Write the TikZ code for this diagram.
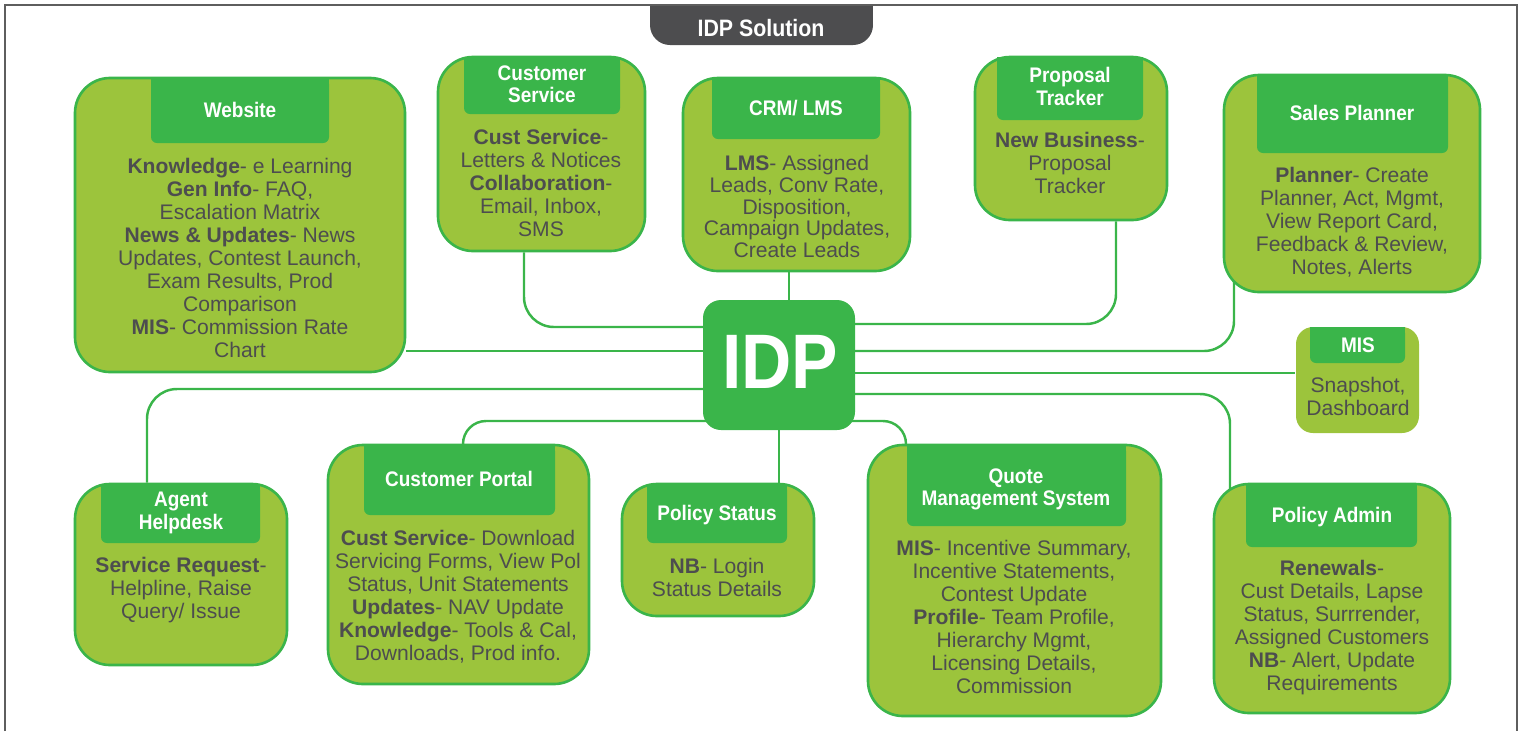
\documentclass[tikz,border=0pt]{standalone}
\usepackage{fontspec}
\setmainfont{Liberation Sans}
\newfontfamily\headfont[FakeStretch=0.9]{Liberation Sans}
\usetikzlibrary{fit,calc,backgrounds}
\definecolor{leaf}{HTML}{9CC43C}
\definecolor{tabgreen}{HTML}{3AB54A}
\definecolor{inkgray}{HTML}{4D4D4F}
\definecolor{framegray}{HTML}{5E5E5E}

\begin{document}
\begin{tikzpicture}[x=0.02cm,y=-0.02cm,
  panel/.style={draw=tabgreen,fill=leaf,line width=1.5pt,rounded corners=0.7cm,inner sep=0pt},
  tab/.style={fill=tabgreen,rounded corners=0.12cm,inner sep=0pt},
  title/.style={anchor=north,inner sep=0pt,text=white,align=center,
    font=\headfont\bfseries\fontsize{12}{13}\selectfont},
  body/.style={anchor=north,inner sep=0pt,align=center,text=inkgray,
    font=\fontsize{12}{13.1}\selectfont},
  link/.style={draw=tabgreen,line width=1.4pt,rounded corners=0.6cm}]
\useasboundingbox (0,0) rectangle (1521,731);

% title tab
\fill[inkgray] (650,5) rectangle (873,25);
\node[fill=inkgray,rounded corners=0.4cm,inner sep=0pt,fit={(650,5) (873,45)}] (solH) {};
\node[title,font=\headfont\bfseries\fontsize{13.5}{14}\selectfont] (sol) at (761,18.5) {IDP Solution};
\draw[framegray,line width=1.1pt] (5,731) -- (5,5) -- (1517,5) -- (1517,731);

% centre
\node[fill=tabgreen,rounded corners=0.36cm,inner sep=0pt,fit={(703,300) (855,430)}] (idp) {};
\node[title,font=\headfont\bfseries\fontsize{44}{44}\selectfont] (idpT) at (780,335) {IDP};

% Website
\node[panel,fit={(75,78) (405,372)}] (web) {};
\fill[tabgreen] (151,78) rectangle (329,110);
\node[tab,fit={(151,78) (329,143)}] (webH) {};
\node[title] (webT) at (240,102) {Website};
\node[body] (webB) at (240,158) {\textbf{Knowledge}- e Learning\\\textbf{Gen Info}- FAQ,\\Escalation Matrix\\
  \textbf{News \& Updates}- News\\Updates, Contest Launch,\\Exam Results, Prod\\Comparison\\
  \textbf{MIS}- Commission Rate\\Chart};

% Customer Service
\node[panel,fit={(438,57) (645,251)}] (cs) {};
\fill[tabgreen] (464,57) rectangle (620,90);
\node[tab,fit={(464,57) (620,114)}] (csH) {};
\node[title] (csT) at (542,65) {Customer\\Service};
\node[body] (csB) at (541,129) {\textbf{Cust Service}-\\Letters \& Notices\\\textbf{Collaboration}-\\Email, Inbox,\\SMS};

% CRM/ LMS
\node[panel,fit={(683,78) (910,271)}] (crm) {};
\fill[tabgreen] (712,78) rectangle (880,110);
\node[tab,fit={(712,78) (880,139)}] (crmH) {};
\node[title] (crmT) at (796,100) {CRM/ LMS};
\node[body,font=\fontsize{12}{12.4}\selectfont] (crmB) at (797,155) {\textbf{LMS}- Assigned\\Leads, Conv Rate,\\Disposition,\\Campaign Updates,\\Create Leads};

% Proposal Tracker
\node[panel,fit={(975,57) (1167,220)}] (prop) {};
\fill[tabgreen] (997,57) rectangle (1143,90);
\node[tab,fit={(997,57) (1143,120)}] (propH) {};
\node[title] (propT) at (1070,67) {Proposal\\Tracker};
\node[body] (propB) at (1070,132) {\textbf{New Business}-\\Proposal\\Tracker};

% Sales Planner
\node[panel,fit={(1224,75) (1480,292)}] (sales) {};
\fill[tabgreen] (1257,75) rectangle (1448,115);
\node[tab,fit={(1257,75) (1448,153)}] (salesH) {};
\node[title] (salesT) at (1352,105) {Sales Planner};
\node[body] (salesB) at (1352,167) {\textbf{Planner}- Create\\Planner, Act, Mgmt,\\View Report Card,\\Feedback \& Review,\\Notes, Alerts};

% MIS
\node[panel,draw=none,rounded corners=0.34cm,fit={(1296,327) (1419,433)}] (mis) {};
\fill[tabgreen] (1310,327) rectangle (1405,345);
\node[tab,fit={(1310,327) (1405,363)}] (misH) {};
\node[title] (misT) at (1358,337) {MIS};
\node[body] (misB) at (1358,377) {Snapshot,\\Dashboard};

% Policy Admin
\node[panel,fit={(1214,484) (1450,713)}] (padm) {};
\fill[tabgreen] (1246,484) rectangle (1417,515);
\node[tab,fit={(1246,484) (1417,547)}] (padmH) {};
\node[title] (padmT) at (1332,507) {Policy Admin};
\node[body] (padmB) at (1332,560) {\textbf{Renewals}-\\Cust Details, Lapse\\Status, Surrrender,\\Assigned Customers\\
  \textbf{NB}- Alert, Update\\Requirements};

% Agent Helpdesk
\node[panel,fit={(75,484) (287,665)}] (agent) {};
\fill[tabgreen] (101,484) rectangle (260,515);
\node[tab,fit={(101,484) (260,543)}] (agentH) {};
\node[title] (agentT) at (181,492) {Agent\\Helpdesk};
\node[body] (agentB) at (181,557) {\textbf{Service Request}-\\Helpline, Raise\\Query/ Issue};

% Customer Portal
\node[panel,fit={(328,445) (589,684)}] (portal) {};
\fill[tabgreen] (364,445) rectangle (555,480);
\node[tab,fit={(364,445) (555,515)}] (portalH) {};
\node[title] (portalT) at (459,471) {Customer Portal};
\node[body] (portalB) at (458,530) {\textbf{Cust Service}- Download\\Servicing Forms, View Pol\\Status, Unit Statements\\
  \textbf{Updates}- NAV Update\\\textbf{Knowledge}- Tools \& Cal,\\Downloads, Prod info.};

% Policy Status
\node[panel,fit={(622,484) (814,616)}] (pstat) {};
\fill[tabgreen] (647,484) rectangle (787,515);
\node[tab,fit={(647,484) (787,543)}] (pstatH) {};
\node[title] (pstatT) at (717,505) {Policy Status};
\node[body] (pstatB) at (717,558) {\textbf{NB}- Login\\Status Details};

% Quote Management System
\node[panel,fit={(868,445) (1161,716)}] (quote) {};
\fill[tabgreen] (907,445) rectangle (1126,485);
\node[tab,fit={(907,445) (1126,526)}] (quoteH) {};
\node[title] (quoteT) at (1016,468) {Quote\\Management System};
\node[body] (quoteB) at (1014,540) {\textbf{MIS}- Incentive Summary,\\Incentive Statements,\\Contest Update\\
  \textbf{Profile}- Team Profile,\\Hierarchy Mgmt,\\Licensing Details,\\Commission};

% connectors
\begin{pgfonlayer}{background}
\draw[link] ($(cs.south)+(-17.5,0)$) |- ($(idp.west)+(5,-38)$);
\coordinate (wj) at ($(idp.west)+(5,-14)$);
\draw[link] (wj) -- (wj -| web.east);
\draw[link] ($(agent.north)+(-34,0)$) |- ($(idp.west)+(5,24)$);
\draw[link,rounded corners=0.46cm] ($(portal.north)+(4.5,0)$) |- ($(idp.west)+(5,56)$);
\coordinate (cj) at ($(crm.south)+(-7.5,0)$);
\draw[link] (cj) -- (cj |- idp.north);
\draw[link] (idp.south) -- (idp.south |- pstat.north);
\draw[link] ($(prop.south)+(45,0)$) |- ($(idp.east)+(-5,-41)$);
\draw[link] ($(sales.south)+(-118,-12)$) |- ($(idp.east)+(-5,-14)$);
\coordinate (mj) at ($(idp.east)+(-5,8)$);
\draw[link] (mj) -- (mj -| mis.west);
\draw[link] ($(padm.north)+(-102,10)$) |- ($(idp.east)+(-5,29)$);
\draw[link,rounded corners=0.46cm] ($(quote.north)+(-108.5,2)$) |- ($(idp.east)+(-5,56)$);
\end{pgfonlayer}
\end{tikzpicture}
\end{document}
